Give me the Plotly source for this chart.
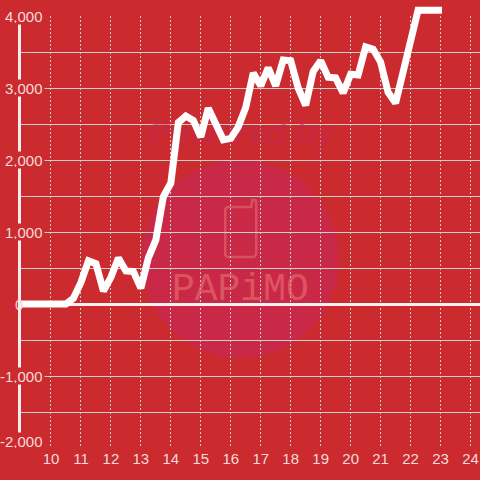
import plotly.graph_objects as go

games = [8.88, 9, 9.25, 9.5, 9.75, 10, 10.25, 10.5, 10.75, 11, 11.25, 11.5, 11.75, 12, 12.25, 12.5, 12.75,
         13, 13.25, 13.5, 13.75, 14, 14.25, 14.5, 14.75, 15, 15.25, 15.5, 15.75, 16, 16.25, 16.5, 16.75,
         17, 17.25, 17.5, 17.75, 18, 18.25, 18.5, 18.75, 19, 19.25, 19.5, 19.75, 20, 20.25, 20.5, 20.75,
         21, 21.25, 21.5, 21.75, 22, 22.25, 22.5, 22.75, 23.05]
values = [0, 0, 0, 0, 0, 0, 0, 0, 80, 300, 600, 560, 180, 370, 640, 460, 450,
          220, 640, 890, 1490, 1680, 2520, 2610, 2550, 2320, 2720, 2510, 2280, 2300, 2460, 2730, 3210,
          3030, 3280, 3030, 3390, 3380, 3000, 2760, 3230, 3380, 3150, 3140, 2930, 3190, 3180, 3570, 3540,
          3360, 2940, 2790, 3210, 3640, 4080, 4080, 4080, 4080]
x_ticks = list(range(10, 25))
y_label_values = [4000, 3000, 2000, 1000, -1000, -2000]
y_labels = ["4,000", "3,000", "2,000", "1,000", "-1,000", "-2,000"]
watermark_texts = ["Powered by", "PAPiMO"]

BG = "#cb2a2e"
GRID = "#c8d0cc"
LABEL = "#f5dcdc"
W, H = 480, 480
L, B = 20.5, 32
PLOT_H = H - B
TOP_4000 = 16
X_RANGE = [9, 24.317]


def px(v):
    return (v - L) / (W - L)


def py(v):
    return 1 - v / PLOT_H


def path(points, close=False):
    s = "M" + " L".join(f"{px(a):.4f},{py(b):.4f}" for a, b in points)
    return s + (" Z" if close else "")


fig = go.Figure()
# Watermark wordmarks sit in the lower subplot so the white series draws over them.
fig.add_trace(go.Scatter(x=[16.35], y=[2333], mode="text", text=[watermark_texts[0]],
                         textposition="middle center", hoverinfo="skip", cliponaxis=False,
                         textfont=dict(family="Liberation Sans", size=33, color="rgba(199,40,78,0.5)",
                                       weight="bold", style="italic")))
fig.add_trace(go.Scatter(x=[16.32], y=[194], mode="text", text=[watermark_texts[1]],
                         textposition="middle center", hoverinfo="skip", cliponaxis=False,
                         textfont=dict(family="Liberation Mono", size=38, color="rgba(232,110,115,0.65)")))
fig.add_trace(go.Scatter(x=games, y=values, mode="lines", xaxis="x2", yaxis="y2",
                         line=dict(color="white", width=7), hoverinfo="skip"))

shapes = [
    dict(type="circle", xref="paper", yref="paper", layer="below",
         x0=px(141), x1=px(339), y0=py(358), y1=py(160),
         fillcolor="#c92947", line=dict(width=0)),
    dict(type="path", xref="paper", yref="paper", layer="below",
         path=path([(227, 207), (251, 207), (252, 200), (255, 200), (256, 202), (256, 254), (254, 257),
                    (227, 257), (225, 255), (225, 209)], close=True),
         fillcolor="rgba(0,0,0,0)", line=dict(color="#d9505f", width=2.5)),
]

annotations = []
for v, t in zip(y_label_values, y_labels):
    annotations.append(dict(
        xref="paper", yref="y", x=px(45), y=v, text=t, xanchor="right",
        yshift=7 if v == -2000 else 0,
        showarrow=False, bgcolor=BG, height=14, borderpad=1,
        font=dict(family="Liberation Sans", size=15, color=LABEL)))
annotations.append(dict(
    xref="paper", yref="y", x=px(12), y=0, text="0", showarrow=False,
    font=dict(family="Liberation Sans", size=15, color=LABEL)))

fig.update_layout(
    width=W, height=H, autosize=False, showlegend=False,
    margin=dict(l=L, r=0, t=0, b=B, pad=0),
    paper_bgcolor=BG, plot_bgcolor="rgba(0,0,0,0)",
    shapes=shapes, annotations=annotations,
    xaxis=dict(range=X_RANGE, tickvals=x_ticks, showgrid=True, griddash="2px,2px",
               gridcolor=GRID, gridwidth=1, zeroline=False, showline=False, ticks="", anchor="y",
               tickfont=dict(family="Liberation Sans", size=15, color=LABEL)),
    yaxis=dict(range=[-2000, 4000], domain=[0, 1 - TOP_4000 / PLOT_H], dtick=500, tick0=0,
               showticklabels=False, showgrid=True,
               gridcolor=GRID, gridwidth=1, zeroline=True, zerolinecolor="#f5f0f0", zerolinewidth=3,
               showline=True, linecolor="#f2eeee", linewidth=3, ticks="", anchor="x"),
    xaxis2=dict(range=X_RANGE, visible=False, anchor="y2", overlaying="x"),
    yaxis2=dict(range=[-2000, 4000 + TOP_4000 * 6000 / (PLOT_H - TOP_4000)], domain=[0, 1],
                visible=False, anchor="x2"),
)

fig.write_html("out.html", config={"displayModeBar": False},
               post_script="document.body.style.margin='0';document.documentElement.style.background='%s';" % BG)
